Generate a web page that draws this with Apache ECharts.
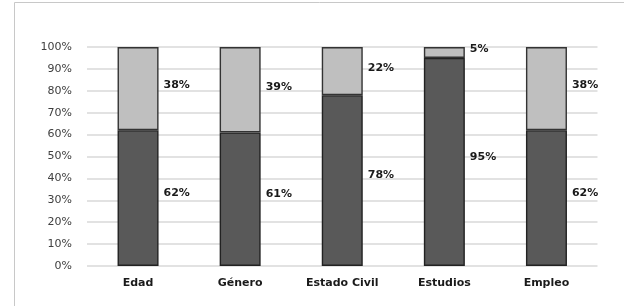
<!DOCTYPE html>
<html>
<head>
<meta charset="utf-8">
<script src="https://cdn.jsdelivr.net/npm/echarts@6/dist/echarts.min.js"></script>
<style>html,body{margin:0;padding:0;background:#fff}#c{width:624px;height:306px}</style>
</head>
<body>
<div id="c"></div>
<script>
const categories = ['Edad', 'Género', 'Estado Civil', 'Estudios', 'Empleo'];
const lowerValues = [62, 61, 78, 95, 62];
const upperValues = [38, 39, 22, 5, 38];
const yTicks = [0, 10, 20, 30, 40, 50, 60, 70, 80, 90, 100];

const chart = echarts.init(document.getElementById('c'), null, {renderer: 'canvas'});
const font = 'DejaVu Sans';
function labelCfg(dy) {
  return {
    show: true, position: 'right', distance: 5, offset: [0, dy],
    formatter: p => p.value + '%', fontFamily: font, fontSize: 11, fontWeight: 'bold', color: '#1a1a1a'
  };
}
chart.setOption({
  animation: false,
  backgroundColor: '#fff',
  graphic: [{
    type: 'rect', shape: {x: 14.5, y: 2.5, width: 800, height: 500},
    style: {fill: 'none', stroke: '#c8c8c8', lineWidth: 1}, silent: true
  }],
  grid: {left: 87, right: 26.5, top: 47, bottom: 40},
  xAxis: {
    type: 'category', data: categories,
    axisLine: {show: false}, axisTick: {show: false},
    axisLabel: {fontFamily: font, fontSize: 11, fontWeight: 'bold', color: '#1a1a1a', margin: 12}
  },
  yAxis: {
    type: 'value', min: 0, max: 100, interval: 10,
    axisLine: {show: false}, axisTick: {show: false},
    axisLabel: {fontFamily: font, fontSize: 11, color: '#404040', margin: 15,
      formatter: v => (yTicks.includes(v) ? v + '%' : '')},
    splitLine: {lineStyle: {color: '#d9d9d9', width: 1.5}}
  },
  series: [
    {type: 'bar', stack: 's', data: lowerValues, barWidth: 41,
     itemStyle: {color: '#595959', borderColor: '#222', borderWidth: 1.4}, label: labelCfg(-5)},
    {type: 'bar', stack: 's', data: upperValues, barWidth: 41,
     itemStyle: {color: '#bfbfbf', borderColor: '#333', borderWidth: 1.4}, label: labelCfg(-3)}
  ]
});
</script>
</body>
</html>
